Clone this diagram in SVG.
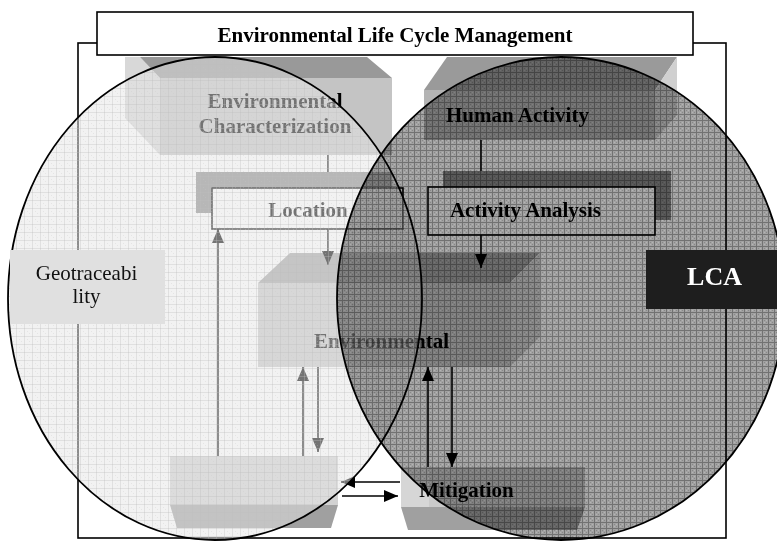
<svg xmlns="http://www.w3.org/2000/svg" width="777" height="542" viewBox="0 0 777 542">
<style>
.t{font-family:"Liberation Serif","Times New Roman",serif;font-weight:bold;font-size:21px;text-anchor:middle;fill:#000}
.tn{font-family:"Liberation Serif","Times New Roman",serif;font-size:21px;text-anchor:middle;fill:#111}
.ln{stroke:#000;stroke-width:1.6;fill:none}
.box{fill:#fff;stroke:#000;stroke-width:1.6}
.ring{fill:none;stroke:#000;stroke-width:1.8}
</style>
<defs>
<marker id="ah" viewBox="0 0 14 12" refX="14" refY="6" markerWidth="14" markerHeight="12" markerUnits="userSpaceOnUse" orient="auto">
<path d="M0,0 L14,6 L0,12 z" fill="#000"/>
</marker>
<pattern id="pLight" width="8" height="8" patternUnits="userSpaceOnUse">
<rect width="8" height="1" fill="#bdbdbd" fill-opacity="0.35"/>
<rect width="1" height="8" fill="#bdbdbd" fill-opacity="0.35"/>
<rect x="3" y="3" width="1" height="1" fill="#c8c8c8" fill-opacity="0.3"/>
<rect x="5" y="5" width="1" height="1" fill="#c8c8c8" fill-opacity="0.3"/>
</pattern>
<pattern id="pDark" width="6" height="6" patternUnits="userSpaceOnUse">
<rect width="6" height="6" fill="#a2a2a2"/>
<rect x="2" y="2" width="1" height="1" fill="#888"/>
<rect x="4" y="4" width="1" height="1" fill="#888"/>
<rect x="4" y="2" width="1" height="1" fill="#b4b4b4"/>
<rect x="2" y="4" width="1" height="1" fill="#b4b4b4"/>
<rect width="6" height="1" fill="#727272"/>
<rect width="1" height="6" fill="#727272"/>
</pattern>
</defs>
<rect width="777" height="542" fill="#fff"/>

<g id="frame">
<rect x="78" y="43" width="648" height="495" class="ln"/>
</g>

<g id="env-characterization">
<polygon points="125,57 140,57 160,78 160,155 125,118" fill="#d8d8d8"/>
<polygon points="140,57 367,57 392,78 160,78" fill="#999"/>
<rect x="160" y="78" width="232" height="77" fill="#c4c4c4"/>
<text class="t" x="275" y="108">Environmental</text>
<text class="t" x="275" y="133">Characterization</text>
</g>

<g id="human-activity">
<polygon points="447,57 677,57 655,90 424,90" fill="#9a9a9a"/>
<polygon points="655,90 677,57 677,115 655,140" fill="#d0d0d0"/>
<rect x="424" y="90" width="231" height="50" fill="#b4b4b4"/>
<text class="t" x="517.5" y="122">Human Activity</text>
</g>

<g id="environmental">
<polygon points="290,253 540,253 510,283 258,283" fill="#a4a4a4"/>
<polygon points="510,283 540,253 540,337 510,367" fill="#d4d4d4"/>
<rect x="258" y="283" width="252" height="84" fill="#c8c8c8"/>
<text class="t" x="381.5" y="348">Environmental</text>
</g>

<g id="bottom-block">
<rect x="170" y="456" width="168" height="49" fill="#d2d2d2"/>
<polygon points="170,505 338,505 331,528 177,528" fill="#a0a0a0"/>
</g>

<g id="mitigation">
<rect x="401" y="467" width="184" height="40" fill="#cacaca"/>
<rect x="401" y="467" width="28" height="40" fill="#d6d6d6"/>
<text class="t" x="466.5" y="497">Mitigation</text>
<polygon points="401,507 585,507 577,530 408,530" fill="#a0a0a0"/>
</g>

<g id="connectors">
<path class="ln" d="M328,155 V265" marker-end="url(#ah)"/>
<path class="ln" d="M481,140 V268" marker-end="url(#ah)"/>
<path class="ln" d="M218,456 V229" marker-end="url(#ah)"/>
<path class="ln" d="M303,456 V367" marker-end="url(#ah)"/>
<path class="ln" d="M318,367 V452" marker-end="url(#ah)"/>
<path class="ln" d="M428,467 V367" marker-end="url(#ah)"/>
<path class="ln" d="M452,367 V467" marker-end="url(#ah)"/>
<path class="ln" d="M400,482 H341" marker-end="url(#ah)"/>
<path class="ln" d="M342,496 H398" marker-end="url(#ah)"/>
</g>

<g id="location">
<rect x="196" y="172" width="196" height="41" fill="#888"/>
<rect x="212" y="188" width="191" height="41" class="box"/>
<text class="t" x="308" y="217">Location</text>
</g>

<g id="activity-analysis">
<rect x="443" y="171" width="228" height="49" fill="#888"/>
<rect x="428" y="187" width="227" height="48" class="box"/>
<text class="t" x="525.5" y="217">Activity Analysis</text>
</g>

<g id="circle-geotraceability">
<ellipse cx="215" cy="298.5" rx="207" ry="241.5" fill="#e6e6e6" fill-opacity="0.5"/>
<ellipse cx="215" cy="298.5" rx="207" ry="241.5" fill="url(#pLight)"/>
</g>

<g id="circle-lca">
<ellipse cx="561" cy="298.5" rx="224" ry="241.5" fill="url(#pDark)" style="mix-blend-mode:multiply"/>
</g>

<g id="circle-outlines">
<ellipse cx="215" cy="298.5" rx="207" ry="241.5" class="ring"/>
<ellipse cx="561" cy="298.5" rx="224" ry="241.5" class="ring"/>
</g>

<g id="title">
<rect x="97" y="12" width="596" height="43" class="box"/>
<text class="t" x="395" y="42">Environmental Life Cycle Management</text>
</g>

<g id="geotraceability">
<rect x="10" y="250" width="155" height="74" fill="#e0e0e0"/>
<text class="tn" x="86.5" y="280">Geotraceabi</text>
<text class="tn" x="86.5" y="303">lity</text>
</g>

<g id="lca">
<rect x="646" y="250" width="131" height="59" fill="#1e1e1e"/>
<text class="t" x="714.5" y="285" style="fill:#fff;font-size:26px">LCA</text>
</g>
</svg>
